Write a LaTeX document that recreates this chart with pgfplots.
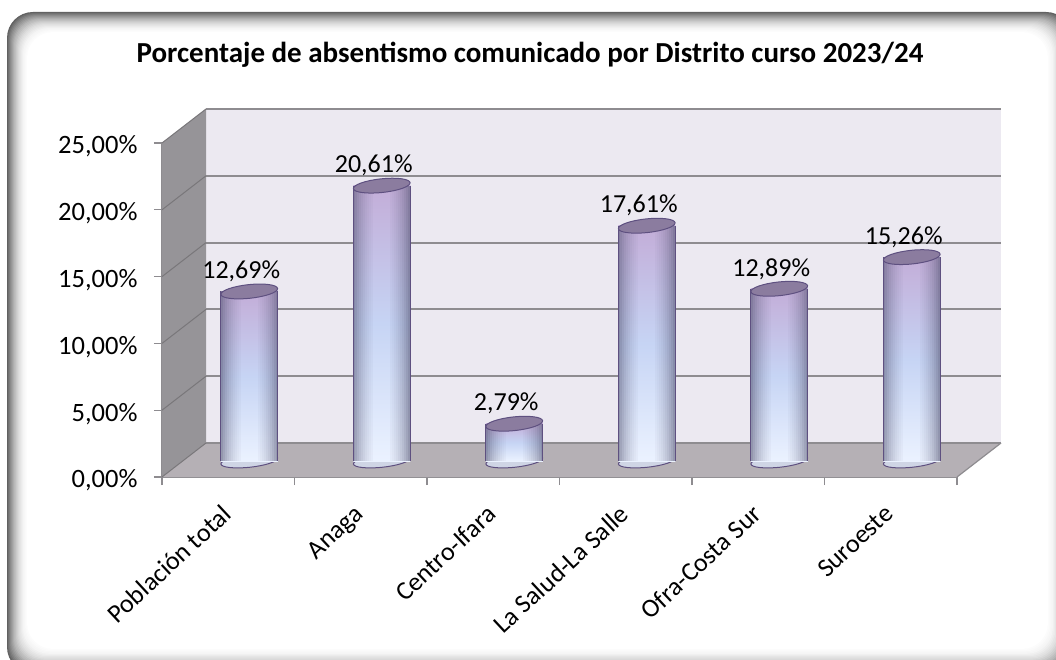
\documentclass[border=0pt]{standalone}
\usepackage{fontspec}
\setmainfont{Carlito}
\usepackage{pgfplots}
\pgfplotsset{compat=1.18}

\definecolor{wallback}{HTML}{ECE9F1}
\definecolor{wallside}{HTML}{969498}
\definecolor{wallfloor}{HTML}{B5B0B5}
\definecolor{gridgray}{HTML}{8E8C90}
\definecolor{captop}{HTML}{8B7C9F}
\definecolor{barpurple}{HTML}{C3ADD8}
\definecolor{barblue}{HTML}{C6D4F4}
\definecolor{barpale}{HTML}{EBF2FF}
\definecolor{baredge}{HTML}{5E5080}
\definecolor{barside}{HTML}{50506E}

% darker strip along a cylinder side: x, value, offset, opacity
\newcommand\strip[4]{
  \addplot[ycomb,barside,line width=2.1pt,opacity=#4,mark=none,xshift=#3pt,yshift=16pt] coordinates {(#1,#2)};
}
% one cylinder: x position, value
\newcommand\cyl[2]{
  \addplot[only marks,mark=*,mark size=28.5pt,xshift=21pt,yshift=16pt,
    mark options={draw=baredge,line width=1pt,fill=barpale!82!barside,rotate=6,yscale=.22}] coordinates {(#1,0)};
  \addplot[ybar,bar width=57pt,bar shift=21pt,yshift=16pt,draw=none,
    top color=barpurple,bottom color=barpale,middle color=barblue] coordinates {(#1,#2)};
  \strip{#1}{#2}{-6.5}{.55}\strip{#1}{#2}{-4.5}{.46}\strip{#1}{#2}{-2.5}{.38}\strip{#1}{#2}{-.5}{.31}
  \strip{#1}{#2}{1.5}{.25}\strip{#1}{#2}{3.5}{.2}\strip{#1}{#2}{5.5}{.15}\strip{#1}{#2}{7.5}{.11}
  \strip{#1}{#2}{9.5}{.07}\strip{#1}{#2}{11.5}{.04}
  \strip{#1}{#2}{48.5}{.55}\strip{#1}{#2}{46.5}{.46}\strip{#1}{#2}{44.5}{.38}\strip{#1}{#2}{42.5}{.31}
  \strip{#1}{#2}{40.5}{.25}\strip{#1}{#2}{38.5}{.2}\strip{#1}{#2}{36.5}{.15}\strip{#1}{#2}{34.5}{.11}
  \strip{#1}{#2}{32.5}{.07}\strip{#1}{#2}{30.5}{.04}
  \addplot[ycomb,baredge,line width=1pt,mark=none,xshift=-7.5pt,yshift=16pt] coordinates {(#1,#2)};
  \addplot[ycomb,baredge,line width=1pt,mark=none,xshift=49.5pt,yshift=16pt] coordinates {(#1,#2)};
  \addplot[only marks,mark=*,mark size=28.5pt,xshift=21pt,yshift=16pt,
    mark options={draw=baredge,line width=1pt,fill=captop,rotate=6,yscale=.24},
    nodes near coords={\pgfmathprintnumber[fixed,fixed zerofill,precision=2,use comma,assume math mode=true]{\pgfplotspointmeta}\%},
    every node near coord/.style={anchor=center,xshift=-8pt,yshift=20pt,font=\fontsize{26}{31}\selectfont,black}]
    coordinates {(#1,#2)};
}

\begin{document}
\begin{tikzpicture}[x=1pt,y=1pt]
\path[use as bounding box] (0,0) rectangle (1056,659);
% frame with inner shadow
\fill[white] (0,0) rectangle (1056,659);
\foreach \i in {0,...,22}{
  \pgfmathtruncatemacro\g{62*(1-\i/22)^2}
  \fill[rounded corners=26pt,black!\g!white]
    ({7+\i},{-14+1.2*\i}) rectangle ({1072-1.2*\i},{647-\i});
}
\node[font=\fontsize{29}{35}\selectfont\bfseries] at (530,604) {Porcentaje de absentismo comunicado por Distrito curso 2023/24};

\begin{axis}[
  at={(162pt,182pt)},anchor=south west,scale only axis,width=795pt,height=334pt,
  xmin=-0.5,xmax=5.5,ymin=0,ymax=25,clip=false,clip mode=individual,
  axis lines*=left,axis line style={gridgray,line width=1.5pt,-},
  xtick={0,1,2,3,4,5},
  xticklabels={Población total,Anaga,Centro-Ifara,La Salud-La Salle,Ofra-Costa Sur,Suroeste},
  minor xtick={-0.5,0.5,1.5,2.5,3.5,4.5,5.5},
  major x tick style={draw=none},
  minor x tick style={gridgray,line width=1.2pt},
  minor tick length=8pt,
  ytick={0,5,10,15,20,25},
  y tick style={gridgray,line width=1.2pt},
  major tick length=8pt,
  tick align=outside,
  /pgf/number format/.cd,fixed,fixed zerofill,precision=2,use comma,assume math mode=true,
  /pgfplots/.cd,
  yticklabel={\pgfmathprintnumber{\tick}\%},
  y tick label style={font=\fontsize{26.5}{32}\selectfont,xshift=-13pt,yshift=-3.5pt},
  x tick label style={font=\fontsize{26}{31}\selectfont,rotate=43,anchor=north east,inner sep=0pt,yshift=-8pt,xshift=-18pt},
]
% walls
\fill[wallback] (axis cs:-0.5,0) ++(44pt,34pt) -- ++(795pt,0pt) -- ++(0pt,334pt) -- ++(-795pt,0pt) -- cycle;
\fill[wallside] (axis cs:-0.5,0) -- ++(44pt,34pt) -- ++(0pt,334pt) -- ++(-44pt,-34pt) -- cycle;
\fill[wallfloor] (axis cs:-0.5,0) -- ++(795pt,0pt) -- ++(44pt,34pt) -- ++(-795pt,0pt) -- cycle;
\draw[gridgray,line width=1.2pt] (axis cs:5.5,0) -- ++(44pt,34pt);
% grid on back and side walls
\pgfplotsinvokeforeach{0,5,10,15,20,25}{
  \addplot[gridgray,line width=1.9pt,mark=none,xshift=44pt,yshift=34pt] coordinates {(-0.5,#1) (5.5,#1)};
  \draw[gridgray!85!black,line width=1pt] (axis cs:-0.5,#1) -- ++(44pt,34pt);
}
\cyl{0}{12.69}
\cyl{1}{20.61}
\cyl{2}{2.79}
\cyl{3}{17.61}
\cyl{4}{12.89}
\cyl{5}{15.26}
\end{axis}
\end{tikzpicture}
\end{document}
